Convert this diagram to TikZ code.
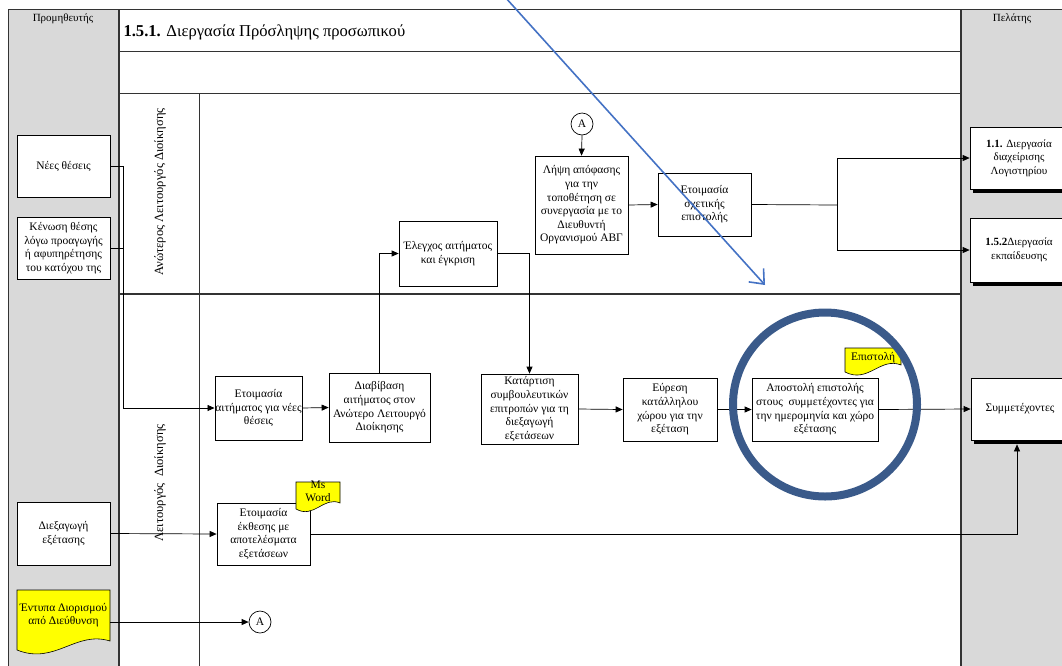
\documentclass[tikz,border=0pt]{standalone}
\usepackage{fontspec}
\setmainfont{Liberation Serif}
\usetikzlibrary{arrows.meta,calc}
\definecolor{poolgrey}{RGB}{217,217,217}
\definecolor{ringblue}{RGB}{58,90,138}
\definecolor{arrblue}{RGB}{68,114,196}
\definecolor{docyellow}{RGB}{255,255,0}
% document shape: x1, top, x2, bottom-left y, bottom-right y
\newcommand{\docshape}[5]{%
  \filldraw[docfill] (#1,#4) -- (#1,#2) -- (#3,#2) -- (#3,#5)
    .. controls ({#3-0.37*(#3-#1)},{#5-1.2*(#4-#5)}) and ({#1+0.41*(#3-#1)},{#4+1.7*(#4-#5)}) .. (#1,#4) -- cycle;}
\tikzset{
  box/.style={draw, fill=white, line width=0.7pt, align=center, inner sep=0.5pt,
    font=\fontsize{11.5}{13.6}\selectfont},
  shadowbar/.style={fill=black},
  doctext/.style={align=center, inner sep=0.5pt, font=\fontsize{11.5}{13.6}\selectfont},
  docfill/.style={fill=docyellow, draw=black, line width=0.6pt},
  conn/.style={line width=0.7pt},
  arr/.style={conn, -{Triangle[length=7pt,width=6pt]}},
  offpage/.style={circle, draw, line width=0.7pt, minimum size=22pt, inner sep=0pt,
    font=\fontsize{11.5}{13.6}\selectfont},
  lanelbl/.style={rotate=90, font=\fontsize{12.6}{14}\selectfont},
  frame/.style={line width=1pt, draw=black!80},
}
\begin{document}
\begin{tikzpicture}[x=1pt,y=-1pt]
\useasboundingbox (0,0) rectangle (1062,665);
\clip (0,0) rectangle (1062,665);
% pools
\fill[poolgrey] (8,9) rectangle (119,670);
\fill[poolgrey] (961,9) rectangle (1070,670);
\draw[frame] (8,670) -- (8,9) -- (1070,9);
\draw[frame, line width=1.4pt] (119,9) -- (119,670);
\draw[frame, line width=1.4pt] (961,9) -- (961,670);
\draw[frame] (119,51) -- (961,51);
\draw[frame] (119,93) -- (961,93);
\draw[frame] (199,93) -- (199,670);
\draw[frame, line width=1.6pt] (119,294) -- (961,294);
% headers
\node[font=\fontsize{11}{13}\selectfont] (hprom) at (63,19) {Προμηθευτής};
\node[font=\fontsize{11}{13}\selectfont] (hpel) at (1012,19) {Πελάτης};
\node[anchor=west, font=\fontsize{16.6}{19}\selectfont] (title) at (120,32) {\textbf{1.5.1.} Διεργασία Πρόσληψης προσωπικού};
\node[lanelbl] (lane1) at (160,192) {Ανώτερος Λειτουργός Διοίκησης};
\node[lanelbl] (lane2) at (160,483) {Λειτουργός\ \ Διοίκησης};
% left boxes
\node[box, minimum width=93pt, minimum height=62pt] (nees) at (63.5,166) {Νέες θέσεις};
\node[box, minimum width=93pt, minimum height=62pt] (kenosi) at (63.5,248) {Κένωση θέσης\\λόγω προαγωγής\\ή αφυπηρέτησης\\του κατόχου της};
\node[box, minimum width=93pt, minimum height=63pt] (diex) at (63.5,533.5) {Διεξαγωγή\\εξέτασης};
\docshape{17}{590}{110}{650}{641}
\node[doctext, minimum width=93pt] (entypa) at (63.5,615) {Έντυπα Διορισμού\\από Διεύθυνση};
% upper lane
\node[box, minimum width=98pt, minimum height=65pt] (elegxos) at (448,253.5) {Έλεγχος αιτήματος\\και έγκριση};
\node[box, minimum width=93pt, minimum height=98pt] (lipsi) at (581.5,205) {Λήψη απόφασης\\για την\\τοποθέτηση σε\\συνεργασία με το\\Διευθυντή\\Οργανισμού ΑΒΓ};
\node[offpage] (A1) at (582,124) {A};
\node[box, minimum width=93pt, minimum height=63pt] (etep) at (704.5,204.5) {Ετοιμασία\\σχετικής\\επιστολής};
% right boxes with shadows
\fill[shadowbar] (973,131) rectangle (1071,193);
\fill[shadowbar] (973,222) rectangle (1071,286);
\fill[shadowbar] (974,382) rectangle (1072,444);
\node[box, minimum width=98pt, minimum height=62pt, font=\fontsize{11}{13.5}\selectfont] (r1) at (1019,158) {\textbf{1.1.} Διεργασία\\διαχείρισης\\Λογιστηρίου};
\node[box, minimum width=98pt, minimum height=64pt, font=\fontsize{11}{13.5}\selectfont] (r2) at (1019,250) {\textbf{1.5.2}Διεργασία\\εκπαίδευσης};
\node[box, minimum width=98pt, minimum height=62pt] (symm) at (1020,409) {Συμμετέχοντες};
% lower lane
\node[box, minimum width=83pt, minimum height=64pt] (etait) at (258.5,408) {Ετοιμασία\\αιτήματος για νέες\\θέσεις};
\node[box, minimum width=101pt, minimum height=69pt] (diab) at (379.5,407.5) {Διαβίβαση\\αιτήματος στον\\Ανώτερο Λειτουργό\\Διοίκησης};
\node[box, minimum width=97pt, minimum height=70pt] (kat) at (529.5,409) {Κατάρτιση\\συμβουλευτικών\\επιτροπών για τη\\διεξαγωγή\\εξετάσεων};
\node[box, minimum width=94pt, minimum height=63pt] (evr) at (670,409.5) {Εύρεση\\κατάλληλου\\χώρου για την\\εξέταση};
\node[box, minimum width=126pt, minimum height=63pt] (apost) at (815,409.5) {Αποστολή επιστολής\\στους\ \ συμμετέχοντες για\\την ημερομηνία και χώρο\\εξέτασης};
\docshape{845}{348}{901}{372}{365}
\node[doctext, minimum width=56pt] (epist) at (873,358) {Επιστολή};
\node[box, minimum width=93pt, minimum height=62pt] (ekth) at (263.5,534) {Ετοιμασία\\έκθεσης με\\αποτελέσματα\\εξετάσεων};
\docshape{296}{482}{340}{509}{503}
\node[doctext, minimum width=44pt, font=\fontsize{11.5}{13}\selectfont] (msword) at (318,491) {Ms\\Word};
\node[offpage] (A2) at (260,622) {A};
% connectors
\coordinate (bus) at (123,408);
\draw[conn] (nees.east) -| (bus);
\draw[conn] (kenosi.east) -| (bus);
\draw[arr] (bus) -- (etait.west);
\draw[arr] (etait.east) -- (diab.west);
\draw[arr] (diab.north) |- (elegxos.west);
\draw[arr] (elegxos.east) -| (kat.north);
\draw[arr] (kat.east) -- (evr.west);
\draw[arr] (evr.east) -- (apost.west);
\draw[arr] (apost.east) -- (symm.west);
\draw[arr] (A1.south) -- (lipsi.north);
\draw[arr] (lipsi.east) -- (etep.west);
\coordinate (split) at (837,205);
\draw[conn] (etep.east) -- (split);
\draw[arr] (split) |- (r1.west);
\draw[arr] (split) |- (r2.west);
\draw[arr] (diex.east) -- (ekth.west);
\draw[arr] (ekth.east) -| ([xshift=-3pt,yshift=-4pt]symm.south);
\draw[arr] ([yshift=-7pt]entypa.east) -- (A2.west);
% annotations
\node[circle, draw=ringblue, line width=8pt, minimum size=184pt, inner sep=0pt] (ring) at (825,404.5) {};
\coordinate (bs) at (505,-3);
\coordinate (be) at (765,285);
\draw[arrblue, line width=1.6pt, -{Straight Barb[length=12pt,width=20pt]}] (bs) -- (be);
\end{tikzpicture}
\end{document}
